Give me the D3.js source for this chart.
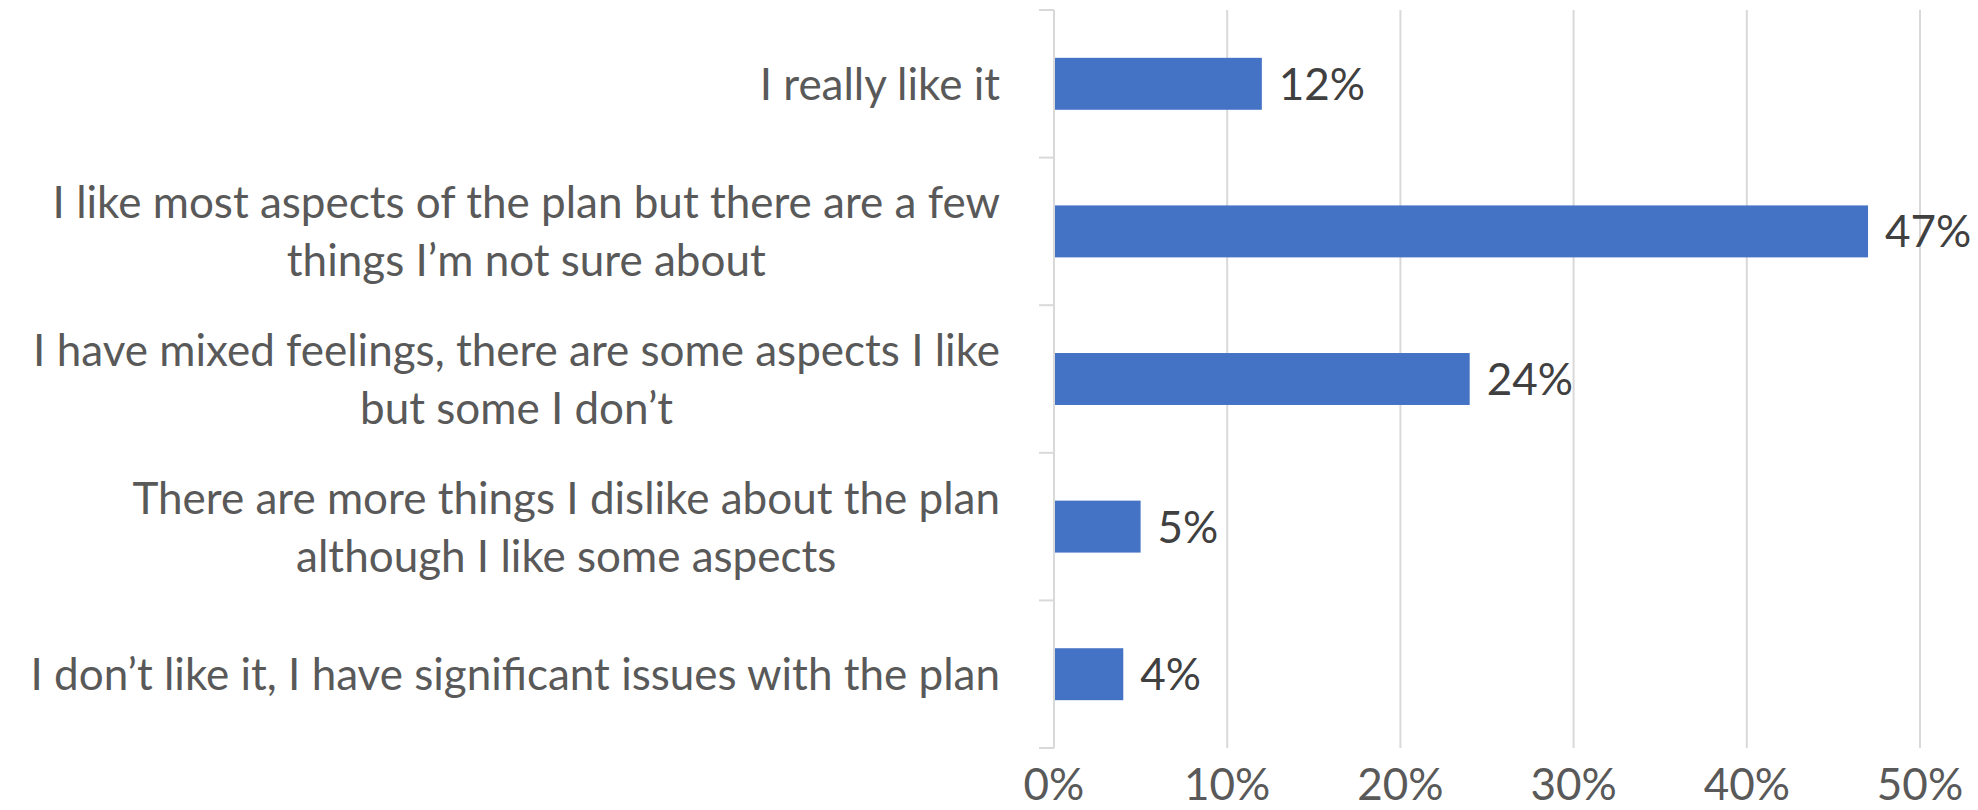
<!DOCTYPE html>
<html>
<head>
<meta charset="utf-8">
<script src="https://cdn.jsdelivr.net/npm/d3@7"></script>
<style>
  html, body { margin: 0; padding: 0; background: #fff; }
  svg { display: block; font-family: Lato, "Open Sans", sans-serif; }
</style>
</head>
<body>
<svg id="chart"></svg>
<script>
// 1. Data
const categories = [
  "I really like it",
  "I like most aspects of the plan but there are a few things I\u2019m not sure about",
  "I have mixed feelings, there are some aspects I like but some I don\u2019t",
  "There are more things I dislike about the plan although I like some aspects",
  "I don\u2019t like it, I have significant issues with the plan",
];
// how each label is broken into lines
const labelLines = [
  ["I really like it"],
  ["I like most aspects of the plan but there are a few", "things I\u2019m not sure about"],
  ["I have mixed feelings, there are some aspects I like", "but some I don\u2019t"],
  ["There are more things I dislike about the plan", "although I like some aspects"],
  ["I don\u2019t like it, I have significant issues with the plan"],
];
const values = [0.12, 0.47, 0.24, 0.05, 0.04];
const xTicks = [0, 0.1, 0.2, 0.3, 0.4, 0.5];

// 2. SVG setup
const W = 1978, H = 810;
const svg = d3.select("#chart").attr("width", W).attr("height", H);

const plot = { left: 1054, right: 1920, top: 10, bottom: 748 };
const fontSize = 44;

const x = d3.scaleLinear().domain([0, 0.5]).range([plot.left, plot.right]);
const y = d3
  .scaleBand()
  .domain(categories)
  .range([plot.top, plot.bottom])
  .paddingInner(0.648)
  .paddingOuter(0.324);

// 3. Gridlines
svg
  .append("g")
  .selectAll("line")
  .data(xTicks.slice(1))
  .enter()
  .append("line")
  .attr("x1", (d) => x(d))
  .attr("x2", (d) => x(d))
  .attr("y1", plot.top)
  .attr("y2", plot.bottom)
  .attr("stroke", "#d9d9d9")
  .attr("stroke-width", 2);

// 4. Category axis (line + ticks between categories)
const bounds = categories.map((c) => y(c) - (y.step() - y.bandwidth()) / 2);
bounds.push(plot.bottom);
const axisG = svg.append("g");
axisG
  .append("line")
  .attr("x1", plot.left)
  .attr("x2", plot.left)
  .attr("y1", plot.top)
  .attr("y2", plot.bottom)
  .attr("stroke", "#d9d9d9")
  .attr("stroke-width", 2);
axisG
  .selectAll(".tick")
  .data(bounds)
  .enter()
  .append("line")
  .attr("x1", plot.left - 15)
  .attr("x2", plot.left)
  .attr("y1", (d) => d)
  .attr("y2", (d) => d)
  .attr("stroke", "#d9d9d9")
  .attr("stroke-width", 2);

// 5. Bars
svg
  .append("g")
  .selectAll("rect")
  .data(values)
  .enter()
  .append("rect")
  .attr("x", x(0) + 1)
  .attr("y", (d, i) => y(categories[i]))
  .attr("width", (d) => x(d) - x(0) - 1)
  .attr("height", y.bandwidth())
  .attr("fill", "#4472c4");

// 6. Value labels
svg
  .append("g")
  .selectAll("text")
  .data(values)
  .enter()
  .append("text")
  .attr("x", (d) => x(d) + 17)
  .attr("y", (d, i) => y(categories[i]) + y.bandwidth() / 2 + 16)
  .attr("font-size", fontSize)
  .attr("fill", "#404040")
  .text((d) => Math.round(d * 100) + "%");

// 7. Category labels: block right-aligned, lines centred inside the block
const labelRight = 1000;
const lineGap = 58;
labelLines.forEach((lines, i) => {
  const cy = y(categories[i]) + y.bandwidth() / 2;
  const t = svg
    .append("text")
    .attr("font-size", fontSize)
    .attr("fill", "#595959")
    .attr("text-anchor", "middle");
  const spans = lines.map((l, j) =>
    t
      .append("tspan")
      .attr("y", cy + 16 + (j - (lines.length - 1) / 2) * lineGap)
      .text(l)
  );
  const widest = d3.max(spans, (s) => s.node().getComputedTextLength());
  spans.forEach((s) => s.attr("x", labelRight - widest / 2));
});

// 8. X axis tick labels
svg
  .append("g")
  .selectAll("text")
  .data(xTicks)
  .enter()
  .append("text")
  .attr("x", (d) => x(d))
  .attr("y", 800)
  .attr("text-anchor", "middle")
  .attr("font-size", fontSize)
  .attr("fill", "#595959")
  .text((d) => Math.round(d * 100) + "%");
</script>
</body>
</html>
